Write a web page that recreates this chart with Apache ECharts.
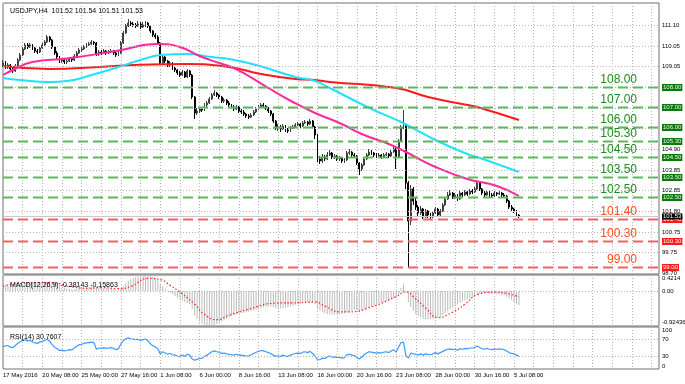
<!DOCTYPE html>
<html><head><meta charset="utf-8">
<script src="https://cdn.jsdelivr.net/npm/echarts@6/dist/echarts.min.js"></script>
<style>html,body{margin:0;padding:0;background:#fff}#c{width:685px;height:384px}</style>
</head><body><div id="c"></div>
<script>
// ---------- DATA ----------
const timeLabels = ['17 May 2016','20 May 08:00','25 May 00:00','27 May 16:00','1 Jun 08:00','6 Jun 00:00','8 Jun 16:00','13 Jun 08:00','16 Jun 00:00','20 Jun 16:00','23 Jun 08:00','28 Jun 00:00','30 Jun 16:00','5 Jul 08:00'];
const firstOpen = 109.10;
const closes = [109.20,109.00,109.10,108.90,108.80,109.05,109.35,109.60,109.90,110.10,
110.00,110.10,109.95,109.80,109.75,109.95,110.10,110.25,110.50,110.35,
110.00,109.70,109.50,109.30,109.35,109.25,109.30,109.40,109.35,109.55,
109.70,109.85,109.90,110.00,110.10,110.15,110.25,110.20,109.65,109.75,
109.70,109.80,109.70,109.75,109.80,109.70,109.60,109.70,110.20,110.70,
111.05,111.20,111.15,111.10,111.05,111.15,111.00,111.10,111.20,111.05,
110.80,110.60,110.50,110.20,109.20,109.50,109.30,109.10,109.20,108.95,
108.85,108.70,108.60,108.75,108.50,108.80,108.60,107.50,106.70,106.80,
106.90,106.85,107.10,107.20,107.40,107.60,107.70,107.60,107.50,107.30,
107.35,107.20,107.10,107.00,106.90,107.00,106.80,106.75,106.65,106.55,
106.50,106.60,106.75,106.90,107.00,107.10,107.05,106.95,106.80,106.65,
106.30,105.95,106.00,105.90,106.05,105.85,105.80,105.95,106.00,106.10,
106.15,106.05,106.20,106.25,106.15,106.30,106.00,105.60,104.40,104.30,
104.50,104.40,104.60,104.70,104.50,104.55,104.40,104.45,104.30,104.35,
104.70,104.75,104.60,104.55,104.20,103.90,104.10,104.40,104.60,104.75,
104.70,104.60,104.55,104.60,104.50,104.60,104.65,104.55,104.75,104.90,
104.50,105.30,106.00,106.10,103.20,101.30,102.90,102.30,102.00,101.70,
101.90,101.50,101.80,101.60,101.50,101.70,101.90,101.60,101.80,102.10,
102.40,102.60,102.70,102.50,102.60,102.40,102.70,102.60,102.75,102.65,
102.80,102.75,102.90,103.20,102.90,102.70,102.60,102.75,102.60,102.55,
102.70,102.65,102.70,102.60,102.55,102.30,102.00,101.90,101.80,101.60,
101.53];
const highs = [109.35,109.30,109.20,109.15,109.00,109.15,109.45,109.70,110.00,110.20,
110.20,110.20,110.15,110.00,109.90,110.05,110.20,110.35,110.60,110.55,
110.40,110.05,109.80,109.55,109.45,109.45,109.40,109.50,109.50,109.65,
109.80,109.95,110.00,110.10,110.20,110.25,110.35,110.30,110.25,109.85,
109.85,109.90,109.85,109.85,109.90,109.85,109.75,109.80,110.30,110.80,
111.15,111.40,111.30,111.25,111.20,111.30,111.25,111.25,111.30,111.25,
111.10,110.85,110.70,110.60,110.25,109.60,109.55,109.35,109.30,109.25,
109.05,108.90,108.80,108.85,108.80,108.90,108.85,108.65,107.55,106.95,
107.00,107.00,107.20,107.30,107.50,107.70,107.85,107.75,107.65,107.55,
107.45,107.40,107.30,107.15,107.10,107.10,107.05,106.90,106.85,106.70,
106.65,106.70,106.85,107.00,107.10,107.20,107.20,107.10,107.00,106.85,
106.70,106.35,106.15,106.10,106.15,106.10,105.95,106.05,106.10,106.20,
106.25,106.20,106.30,106.35,106.30,106.40,106.35,106.05,105.65,104.55,
104.65,104.60,104.75,104.85,104.75,104.65,104.60,104.55,104.50,104.45,
104.80,104.90,104.80,104.70,104.60,104.25,104.20,104.50,104.70,104.90,
104.85,104.75,104.70,104.70,104.65,104.70,104.75,104.70,104.85,105.00,
104.95,105.40,106.10,106.85,106.20,103.30,103.10,103.00,102.45,102.10,
102.05,101.95,101.90,101.85,101.70,101.80,102.00,101.95,101.90,102.20,
102.50,102.75,102.85,102.75,102.70,102.65,102.80,102.75,102.85,102.80,
102.90,102.90,103.00,103.35,103.25,102.95,102.80,102.85,102.80,102.70,
102.80,102.75,102.80,102.75,102.70,102.60,102.35,102.10,101.95,101.85,
101.65];
const lows = [109.00,108.90,108.90,108.80,108.70,108.75,109.00,109.30,109.55,109.85,
109.90,109.95,109.85,109.70,109.65,109.70,109.90,110.05,110.20,110.25,
109.90,109.60,109.40,109.20,109.20,109.15,109.15,109.25,109.25,109.30,
109.50,109.65,109.75,109.85,109.95,110.05,110.10,110.10,109.55,109.55,
109.60,109.65,109.60,109.65,109.70,109.60,109.50,109.55,109.65,110.15,
110.65,111.00,111.05,111.00,110.95,111.00,110.90,110.95,111.00,110.95,
110.70,110.50,110.40,110.10,109.10,109.15,109.20,109.00,109.00,108.85,
108.75,108.60,108.50,108.55,108.45,108.45,108.50,107.40,106.40,106.60,
106.70,106.75,106.80,107.00,107.15,107.35,107.55,107.50,107.40,107.20,
107.20,107.10,107.00,106.90,106.80,106.85,106.70,106.65,106.55,106.45,
106.40,106.45,106.55,106.70,106.85,106.95,106.95,106.85,106.70,106.55,
106.20,105.85,105.80,105.75,105.85,105.75,105.70,105.75,105.90,105.95,
106.05,105.95,106.00,106.15,106.05,106.10,105.90,105.40,104.25,104.15,
104.20,104.30,104.35,104.55,104.40,104.40,104.30,104.30,104.20,104.20,
104.30,104.60,104.50,104.45,104.10,103.60,103.80,104.05,104.35,104.55,
104.60,104.50,104.45,104.50,104.40,104.45,104.55,104.45,104.50,104.70,
103.90,104.45,105.25,105.90,102.90,99.00,101.10,102.10,101.85,101.55,
101.60,101.40,101.45,101.45,101.40,101.45,101.65,101.50,101.55,101.75,
102.05,102.35,102.55,102.40,102.40,102.30,102.35,102.50,102.55,102.55,
102.60,102.65,102.70,102.85,102.80,102.60,102.50,102.55,102.50,102.45,
102.50,102.55,102.60,102.50,102.45,102.20,101.90,101.80,101.70,101.50,
101.45];
// moving averages, read at sampled bars: [bar, price]
const maMagenta = [[0,108.60],[4,108.85],[12,109.25],[26,109.42],[46,109.80],[63,110.15],[72,110.00],[80,109.55],[88,109.20],[93,109.00],[99,108.62],[108,107.95],[118,107.25],[127,106.70],[137,106.20],[146,105.65],[157,105.15],[164,104.75],[176,104.00],[189,103.40],[201,103.05],[210,102.55]];
const maCyan = [[0,108.45],[7,108.35],[19,108.25],[26,108.30],[36,108.60],[47,109.00],[56,109.35],[64,109.60],[75,109.65],[85,109.50],[92,109.40],[103,109.10],[119,108.50],[127,108.30],[133,107.95],[150,106.90],[162,106.25],[176,105.35],[189,104.65],[193,104.50],[210,103.75]];
const maRed = [[0,109.05],[19,108.90],[39,109.00],[53,109.10],[75,109.15],[92,109.00],[105,108.65],[119,108.40],[127,108.35],[133,108.25],[160,107.95],[173,107.50],[189,107.10],[193,107.00],[210,106.35]];
const greenLevels = [108.00,107.00,106.00,105.30,104.50,103.50,102.50];
const redLevels = [101.40,100.30,99.00];
const bidPrice = 101.53;
const priceGrid = [111.10,110.05,109.05,108.00,106.95,105.95,104.90,103.85,102.85,101.80,100.75,99.75,98.70];
const priceGridLabels = [111.10,110.05,109.05,104.90,103.85,102.85,101.80,100.75,99.75,98.70];
const macdHist = [0.15,0.14,0.14,0.13,0.12,0.12,0.13,0.15,0.17,0.19,0.20,
0.21,0.21,0.20,0.19,0.20,0.21,0.22,0.24,0.25,0.24,
0.21,0.18,0.14,0.11,0.09,0.07,0.06,0.05,0.05,0.06,
0.07,0.08,0.09,0.10,0.11,0.12,0.13,0.11,0.10,0.09,
0.08,0.07,0.06,0.06,0.05,0.04,0.04,0.08,0.14,0.21,
0.27,0.31,0.34,0.36,0.38,0.39,0.40,0.41,0.42,0.40,
0.37,0.35,0.30,0.20,0.12,0.06,0.01,-0.04,-0.08,-0.13,
-0.18,-0.22,-0.26,-0.30,-0.32,-0.35,-0.48,-0.65,-0.74,-0.81,
-0.86,-0.89,-0.91,-0.92,-0.92,-0.90,-0.87,-0.84,-0.81,-0.78,
-0.74,-0.70,-0.67,-0.64,-0.62,-0.60,-0.58,-0.57,-0.56,-0.55,
-0.53,-0.51,-0.49,-0.47,-0.45,-0.43,-0.42,-0.41,-0.41,-0.43,
-0.45,-0.46,-0.46,-0.45,-0.44,-0.43,-0.41,-0.39,-0.37,-0.35,
-0.34,-0.32,-0.31,-0.30,-0.29,-0.31,-0.35,-0.45,-0.52,-0.56,
-0.59,-0.61,-0.62,-0.63,-0.63,-0.62,-0.61,-0.60,-0.58,-0.56,
-0.54,-0.52,-0.51,-0.51,-0.52,-0.51,-0.49,-0.46,-0.43,-0.40,
-0.38,-0.35,-0.33,-0.31,-0.29,-0.27,-0.25,-0.22,-0.18,-0.17,
-0.08,0.08,0.20,-0.05,-0.30,-0.42,-0.52,-0.60,-0.66,-0.70,
-0.73,-0.75,-0.75,-0.74,-0.73,-0.72,-0.70,-0.67,-0.63,-0.58,
-0.53,-0.48,-0.44,-0.40,-0.36,-0.32,-0.28,-0.25,-0.22,-0.19,
-0.16,-0.13,-0.09,-0.07,-0.06,-0.06,-0.06,-0.07,-0.08,-0.08,
-0.09,-0.10,-0.11,-0.12,-0.15,-0.19,-0.24,-0.29,-0.33,-0.38];
const macdSignal = [[0,0.13],[13,0.22],[20,0.22],[27,0.12],[35,0.07],[40,0.09],[47,0.06],[52,0.12],[59,0.33],[64,0.30],[68,0.15],[73,-0.08],[78,-0.35],[82,-0.62],[87,-0.76],[92,-0.64],[100,-0.48],[111,-0.32],[120,-0.31],[127,-0.29],[131,-0.40],[137,-0.55],[141,-0.55],[150,-0.42],[160,-0.15],[164,-0.02],[167,-0.15],[172,-0.45],[177,-0.70],[183,-0.56],[188,-0.35],[193,-0.10],[200,-0.03],[205,-0.06],[210,-0.16]];
const macdTop = 0.4214, macdBottom = -0.92436;
const rsiValues = [53,55,56,52,51,56,61,65,68,70,67,
68,65,62,61,64,66,68,71,66,58,
52,48,44,45,43,44,46,45,50,54,
58,59,61,62,63,64,63,47,50,49,
51,49,50,51,49,46,48,60,68,72,
74,72,71,70,71,68,70,71,67,60,
55,53,48,36,41,38,35,37,34,33,
31,30,33,30,35,33,24,21,23,25,
25,30,33,37,41,43,41,40,37,38,
36,35,34,33,35,33,33,32,31,31,
34,37,40,42,44,43,41,39,37,33,
30,31,30,33,30,30,33,35,37,38,
37,40,41,39,42,37,31,22,22,26,
25,29,31,28,29,27,28,26,27,34,
35,33,32,27,24,28,34,38,41,40,
39,38,39,38,40,41,39,43,46,40,
52,63,64,32,26,38,36,35,33,36,
33,36,35,34,36,39,36,39,42,45,
47,48,46,47,45,48,47,49,48,50,
50,51,55,51,48,47,49,47,46,48,
47,48,47,46,43,39,37,36,33,30.76];
const rsiLevels = [70,30];

// ---------- BUILD ----------
const F = '"Liberation Sans",Arial,sans-serif';
const candles = closes.map((c, i) => [i, i === 0 ? firstOpen : closes[i - 1], c, lows[i], highs[i]]);
const histData = macdHist.map((v, i) => [i, v]);
const rsiData = rsiValues.map((v, i) => [i, v]);
const levelRows = greenLevels.map(v => [0, v, 0]).concat(redLevels.map(v => [0, v, 1]));
const dotted = { type: [1, 2], color: '#b4b4b4', width: 1 };
const hidden = { color: 'rgba(0,0,0,0)', width: 1, type: 'solid' };
const LV = [
  { line: '#5cb85c', text: '#1e8c1e', box: '#0a7a0a', boxText: '#e8f5e8' },
  { line: '#f26161', text: '#ff4d1a', box: '#ff1a1a', boxText: '#ffffff' }
];

function xAx(idx, showLabels) {
  return {
    type: 'value', gridIndex: idx, min: 0, max: 267, interval: 8,
    axisLine: { show: false }, axisTick: { show: false },
    splitLine: { show: true, lineStyle: dotted },
    axisLabel: showLabels ? {
      show: true, align: 'left', margin: 3, fontSize: 6, color: '#000', fontFamily: F,
      formatter: v => (v % 16 === 0 && v / 16 < timeLabels.length) ? timeLabels[v / 16] : ''
    } : { show: false }
  };
}
function yAx(idx, min, max) {
  return { type: 'value', gridIndex: idx, min, max, position: 'right', axisLine: { show: false }, axisTick: { show: false }, axisLabel: { show: false }, splitLine: { show: false } };
}
const smallLbl = (txt, extra) => Object.assign({ show: true, position: 'end', formatter: txt, fontSize: 6, color: '#000', distance: 3, fontFamily: F }, extra || {});

function renderLevel(params, api) {
  const cs = params.coordSys;
  const v = api.value(1);
  const st = LV[api.value(2)];
  const y = Math.round(api.coord([api.value(0), v])[1]);
  const txt = v.toFixed(2);
  const children = [];
  // dashes: 10 px on, 5 px off
  for (let x = cs.x; x < cs.x + cs.width; x += 15) {
    children.push({ type: 'rect', shape: { x: x, y: y - 0.5, width: Math.min(10, cs.x + cs.width - x), height: 2 }, style: { fill: st.line } });
  }
  children.push({ type: 'text', x: cs.x + cs.width - 22, y: y - 1, style: { text: txt, fill: st.text, font: '12px "Liberation Sans", Arial, sans-serif', align: 'right', verticalAlign: 'bottom' } });
  children.push({ type: 'text', x: cs.x + cs.width + 3, y: y + 0.5, style: { text: txt, fill: st.boxText, backgroundColor: st.box, padding: [1, 1, 0, 1], font: '6px "Liberation Sans", Arial, sans-serif', align: 'left', verticalAlign: 'middle' } });
  return { type: 'group', children };
}

const option = {
  animation: false,
  backgroundColor: '#fff',
  title: [
    { text: 'USDJPY,H4  101.52 101.54 101.51 101.53', left: 5, top: 3, textStyle: { fontSize: 7, fontWeight: 'normal', color: '#000', fontFamily: F } },
    { text: 'MACD(12,26,9) -0.38143 -0.15863', left: 5, top: 277, textStyle: { fontSize: 7, fontWeight: 'normal', color: '#000', fontFamily: F } },
    { text: 'RSI(14) 30.7607', left: 5, top: 329, textStyle: { fontSize: 7, fontWeight: 'normal', color: '#000', fontFamily: F } }
  ],
  grid: [
    { left: 3, right: 26, top: 3, height: 271, show: true, borderColor: '#707070', borderWidth: 1, backgroundColor: 'transparent' },
    { left: 3, right: 26, top: 275, height: 51, show: true, borderColor: '#707070', borderWidth: 1, backgroundColor: 'transparent' },
    { left: 3, right: 26, top: 327, height: 42, show: true, borderColor: '#707070', borderWidth: 1, backgroundColor: 'transparent' }
  ],
  xAxis: [xAx(0, false), xAx(1, false), xAx(2, true)],
  yAxis: [yAx(0, 98.65, 112.2), yAx(1, macdBottom, macdTop), yAx(2, 0, 100)],
  series: [
    {
      type: 'line', xAxisIndex: 0, yAxisIndex: 0, data: maRed, smooth: 0.5, showSymbol: false,
      lineStyle: { color: '#ff1a1a', width: 2 }, itemStyle: { color: '#ff1a1a' }, z: 3,
      markLine: {
        silent: true, symbol: 'none', animation: false,
        data: priceGrid.map(v => ({ yAxis: v, lineStyle: dotted, label: priceGridLabels.includes(v) ? smallLbl(v.toFixed(2)) : { show: false } }))
          .concat([{ yAxis: bidPrice, lineStyle: { color: '#c8c8c8', type: 'solid', width: 1 }, label: smallLbl(bidPrice.toFixed(2), { backgroundColor: '#000', color: '#fff', padding: [0, 1] }) }])
      }
    },
    {
      type: 'candlestick', xAxisIndex: 0, yAxisIndex: 0, data: candles, encode: { x: 0, y: [1, 2, 3, 4] },
      barWidth: 1.4, z: 2,
      itemStyle: { color: '#9a9a9a', color0: '#000000', borderColor: '#404040', borderColor0: '#000000', borderWidth: 1 }
    },
    {
      type: 'line', xAxisIndex: 0, yAxisIndex: 0, data: maCyan, smooth: 0.5, showSymbol: false,
      lineStyle: { color: '#22e0ff', width: 2 }, itemStyle: { color: '#22e0ff' }, z: 3
    },
    {
      type: 'line', xAxisIndex: 0, yAxisIndex: 0, data: maMagenta, smooth: 0.5, showSymbol: false,
      lineStyle: { color: '#ff2a9a', width: 2 }, itemStyle: { color: '#ff2a9a' }, z: 3
    },
    {
      type: 'custom', xAxisIndex: 0, yAxisIndex: 0, data: levelRows, encode: { x: 0, y: 1 },
      renderItem: renderLevel, clip: false, silent: true, z: 5
    },
    {
      type: 'bar', xAxisIndex: 1, yAxisIndex: 1, data: histData, barWidth: 1,
      itemStyle: { color: '#bcbcbc' },
      markLine: {
        silent: true, symbol: 'none', animation: false,
        data: [
          { yAxis: 0, lineStyle: dotted, label: smallLbl('0.00') },
          { yAxis: macdTop, lineStyle: hidden, label: smallLbl('0.4214', { verticalAlign: 'top' }) },
          { yAxis: macdBottom, lineStyle: hidden, label: smallLbl('-0.92436', { verticalAlign: 'bottom' }) }
        ]
      }
    },
    {
      type: 'line', xAxisIndex: 1, yAxisIndex: 1, data: macdSignal, smooth: 0.5, showSymbol: false,
      lineStyle: { color: '#ff2020', width: 1.2, type: [1.5, 2] }
    },
    {
      type: 'line', xAxisIndex: 2, yAxisIndex: 2, data: rsiData, showSymbol: false,
      lineStyle: { color: '#3d9bff', width: 1.2 },
      markLine: {
        silent: true, symbol: 'none', animation: false,
        data: rsiLevels.map(v => ({ yAxis: v, lineStyle: dotted, label: smallLbl(String(v)) }))
          .concat([
            { yAxis: 100, lineStyle: hidden, label: smallLbl('100', { verticalAlign: 'top' }) },
            { yAxis: 0, lineStyle: hidden, label: smallLbl('0', { verticalAlign: 'bottom' }) }
          ])
      }
    }
  ]
};
const chart = echarts.init(document.getElementById('c'), null, { renderer: 'canvas' });
chart.setOption(option);
</script>
</body></html>
